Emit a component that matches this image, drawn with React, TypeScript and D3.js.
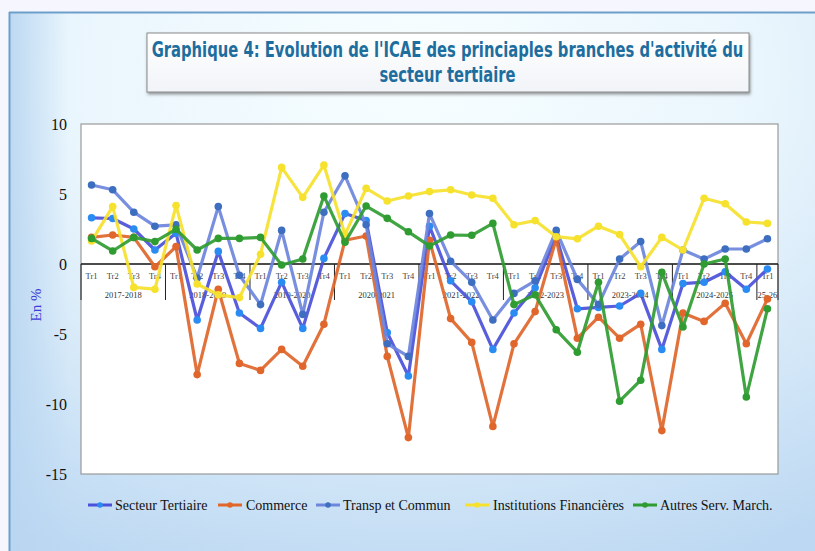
import React, { useLayoutEffect, useRef, useState } from "react";
import * as d3 from "d3";

const years = ["2017-2018", "2018-2019", "2019-2020", "2020-2021", "2021-2022", "2022-2023", "2023-2024", "2024-2025", "25-26"];
const quartersPerYear = [4, 4, 4, 4, 4, 4, 4, 4, 1];
const quarterNames = ["Tr1", "Tr2", "Tr3", "Tr4"];

const secteur = [3.3, 3.25, 2.5, 1.0, 2.2, -4.0, 0.9, -3.5, -4.6, -1.3, -4.6, 0.4, 3.6, 3.1, -4.9, -8.0, 2.7, -1.2, -2.7, -6.1, -3.5, -1.7, 2.0, -3.2, -3.1, -3.0, -2.1, -6.1, -1.4, -1.3, -0.55, -1.8, -0.36];
const commerce = [1.9, 2.07, 1.9, -0.2, 1.24, -7.9, -1.8, -7.1, -7.6, -6.1, -7.3, -4.3, 1.7, 2.0, -6.6, -12.4, 1.7, -3.9, -5.6, -11.6, -5.7, -3.4, 1.8, -5.3, -3.8, -5.3, -4.3, -11.9, -3.5, -4.1, -2.8, -5.7, -2.5];
const transp = [5.64, 5.3, 3.7, 2.7, 2.8, -1.0, 4.1, -0.8, -2.9, 2.4, -3.6, 3.7, 6.3, 2.8, -5.7, -6.6, 3.6, 0.2, -1.3, -4.0, -2.1, -1.2, 2.4, -1.1, -2.9, 0.35, 1.6, -4.4, 1.0, 0.35, 1.07, 1.07, 1.8];
const instFin = [1.64, 4.1, -1.67, -1.8, 4.17, -1.43, -2.2, -2.4, 0.7, 6.9, 4.76, 7.07, 2.1, 5.4, 4.5, 4.86, 5.17, 5.3, 4.93, 4.7, 2.8, 3.1, 1.95, 1.8, 2.7, 2.1, -0.2, 1.9, 1.0, 4.7, 4.3, 3.0, 2.9];
const autres = [1.83, 0.93, 1.9, 1.6, 2.48, 1.0, 1.83, 1.83, 1.9, -0.07, 0.36, 4.86, 1.55, 4.14, 3.26, 2.3, 1.29, 2.07, 2.05, 2.9, -2.9, -2.2, -4.7, -6.3, -1.3, -9.8, -8.3, -0.6, -4.5, 0.0, 0.36, -9.5, -3.2];

const yTicks = [10, 5, 0, -5, -10, -15];

const titleLines = ["Graphique 4: Evolution de l'ICAE des princiaples branches d'activité du", "secteur tertiaire"];

const seriesNames = ["Secteur Tertiaire", "Commerce", "Transp et  Commun", "Institutions Financières", "Autres Serv. March."];
const seriesValues = [secteur, commerce, transp, instFin, autres];
const lineColors = ["#4B50DA", "#E0662B", "#6C86DC", "#F6E12C", "#2F9C31"];
const markerColors = ["#2A8CF2", "#E0662B", "#3D6EC0", "#F6E12C", "#2F9C31"];

const W = 815, H = 551;
const plot = { left: 81, right: 778, top: 124, bottom: 474 };
const titleFont = "'Liberation Sans Narrow','DejaVu Sans Condensed','Roboto Condensed',sans-serif";

function FitText({ text, cx, y, width, size }: { text: string; cx: number; y: number; width: number; size: number }) {
  const ref = useRef<SVGTextElement>(null);
  const [sx, setSx] = useState(1);
  useLayoutEffect(() => {
    if (ref.current) {
      const len = ref.current.getComputedTextLength();
      if (len > 0) setSx(width / len);
    }
  }, [text, width]);
  return (
    <text ref={ref} transform={`translate(${cx},${y}) scale(${sx},1)`} textAnchor="middle" fill="#1D6E9E" fontFamily={titleFont} fontWeight="bold" fontSize={size}>{text}</text>
  );
}

export default function App() {
  const categories: { key: string; q: string; year: number }[] = [];
  quartersPerYear.forEach((n, yi) => {
    for (let q = 0; q < n; q++) categories.push({ key: `${yi}-${q}`, q: quarterNames[q], year: yi });
  });
  const x = d3.scaleBand<string>().domain(categories.map(c => c.key)).range([plot.left, plot.right]);
  const y = d3.scaleLinear().domain([-15, 10]).range([plot.bottom, plot.top]);
  const cx = (i: number) => (x(categories[i].key) as number) + x.bandwidth() / 2;
  const line = d3.line<number>().x((_, i) => cx(i)).y(v => y(v));
  const y0 = y(0);

  const groups: { start: number; end: number; label: string }[] = [];
  let idx = 0;
  quartersPerYear.forEach((n, yi) => {
    const s = x(categories[idx].key) as number;
    const e = (x(categories[idx + n - 1].key) as number) + x.bandwidth();
    groups.push({ start: s, end: e, label: years[yi] });
    idx += n;
  });

  const legendItems = [
    { x: 88, tx: 115 },
    { x: 218, tx: 246 },
    { x: 316, tx: 343 },
    { x: 465, tx: 493 },
    { x: 633, tx: 660 },
  ];

  return (
    <svg width={W} height={H} style={{ position: "absolute", left: 0, top: 0 }} xmlns="http://www.w3.org/2000/svg">
      <defs>
        <radialGradient id="bg" cx="50%" cy="15%" r="95%" fx="50%" fy="10%">
          <stop offset="0%" stopColor="#F7FEFF" />
          <stop offset="45%" stopColor="#EAF6FD" />
          <stop offset="100%" stopColor="#BCD8F2" />
        </radialGradient>
        <linearGradient id="leftg" x1="0" x2="1" y1="0" y2="0">
          <stop offset="0%" stopColor="#B9D6F1" stopOpacity="0.9" />
          <stop offset="100%" stopColor="#B9D6F1" stopOpacity="0" />
        </linearGradient>
        <linearGradient id="titleg" x1="0" x2="0" y1="0" y2="1">
          <stop offset="0%" stopColor="#FFFFFF" />
          <stop offset="100%" stopColor="#F1F4F8" />
        </linearGradient>
        <filter id="shadow" x="-5%" y="-20%" width="110%" height="150%">
          <feDropShadow dx="1" dy="2" stdDeviation="1.5" floodColor="#555" floodOpacity="0.6" />
        </filter>
      </defs>
      <rect x={0} y={0} width={W} height={H} fill="#F6F6FE" />
      <rect x={9} y={12} width={W - 9} height={H - 12} fill="url(#bg)" />
      <rect x={9} y={12} width={60} height={H - 12} fill="url(#leftg)" />
      <line x1={9} x2={W} y1={12.5} y2={12.5} stroke="#6E9FC9" strokeWidth={2} />
      <line x1={9.5} x2={9.5} y1={12} y2={H} stroke="#6E9FC9" strokeWidth={2} />

      {/* title */}
      <rect x={147} y={33} width={602} height={59} fill="url(#titleg)" stroke="#8A8A8A" strokeWidth={1} filter="url(#shadow)" />
      <FitText text={titleLines[0]} cx={447.5} y={57} width={592} size={21} />
      <FitText text={titleLines[1]} cx={447.5} y={82} width={136} size={21} />

      {/* plot area */}
      <rect x={plot.left} y={plot.top} width={plot.right - plot.left} height={plot.bottom - plot.top} fill="#FFFFFF" stroke="#9A9A9A" strokeWidth={1.2} />

      {yTicks.map(t => (
        <text key={t} x={67} y={y(t) + 6} textAnchor="end" fontFamily="'Liberation Serif','Times New Roman',serif" fontSize={16} fill="#111">{t}</text>
      ))}
      <text transform={`translate(41,${305}) rotate(-90)`} textAnchor="middle" fontFamily="'Liberation Serif','Times New Roman',serif" fontSize={15} fill="#3C3CD6">En %</text>

      {/* x axis */}
      <line x1={plot.left} x2={plot.right} y1={y0} y2={y0} stroke="#111" strokeWidth={1.3} />
      {groups.map((g, i) => (
        <g key={i}>
          <line x1={g.start} x2={g.start} y1={y0} y2={y0 + 36} stroke="#222" strokeWidth={1} />
          <text x={(g.start + g.end) / 2} y={y0 + 34} textAnchor="middle" fontFamily="'Liberation Serif','Times New Roman',serif" fontSize={8.5} fill="#333">{g.label}</text>
        </g>
      ))}
      <line x1={plot.right} x2={plot.right} y1={y0} y2={y0 + 36} stroke="#222" strokeWidth={1} />
      {categories.map((c, i) => (
        <text key={c.key} x={cx(i)} y={y0 + 15} textAnchor="middle" fontFamily="'Liberation Serif','Times New Roman',serif" fontSize={8.5} fill="#444">{c.q}</text>
      ))}

      {/* series */}
      {seriesValues.map((vals, si) => (
        <g key={si}>
          <path d={line(vals) as string} fill="none" stroke={lineColors[si]} strokeWidth={3.2} strokeLinejoin="round" opacity={0.92} />
          {vals.map((v, i) => (
            <circle key={i} cx={cx(i)} cy={y(v)} r={3.8} fill={markerColors[si]} />
          ))}
        </g>
      ))}

      {/* legend */}
      {seriesNames.map((name, si) => (
        <g key={name}>
          <line x1={legendItems[si].x} x2={legendItems[si].x + 24} y1={505} y2={505} stroke={lineColors[si]} strokeWidth={3} />
          <circle cx={legendItems[si].x + 12} cy={505} r={2.8} fill={markerColors[si]} />
          <text x={legendItems[si].tx} y={510} fontFamily="'Liberation Serif','Times New Roman',serif" fontSize={14} fill="#111">{name}</text>
        </g>
      ))}
    </svg>
  );
}
